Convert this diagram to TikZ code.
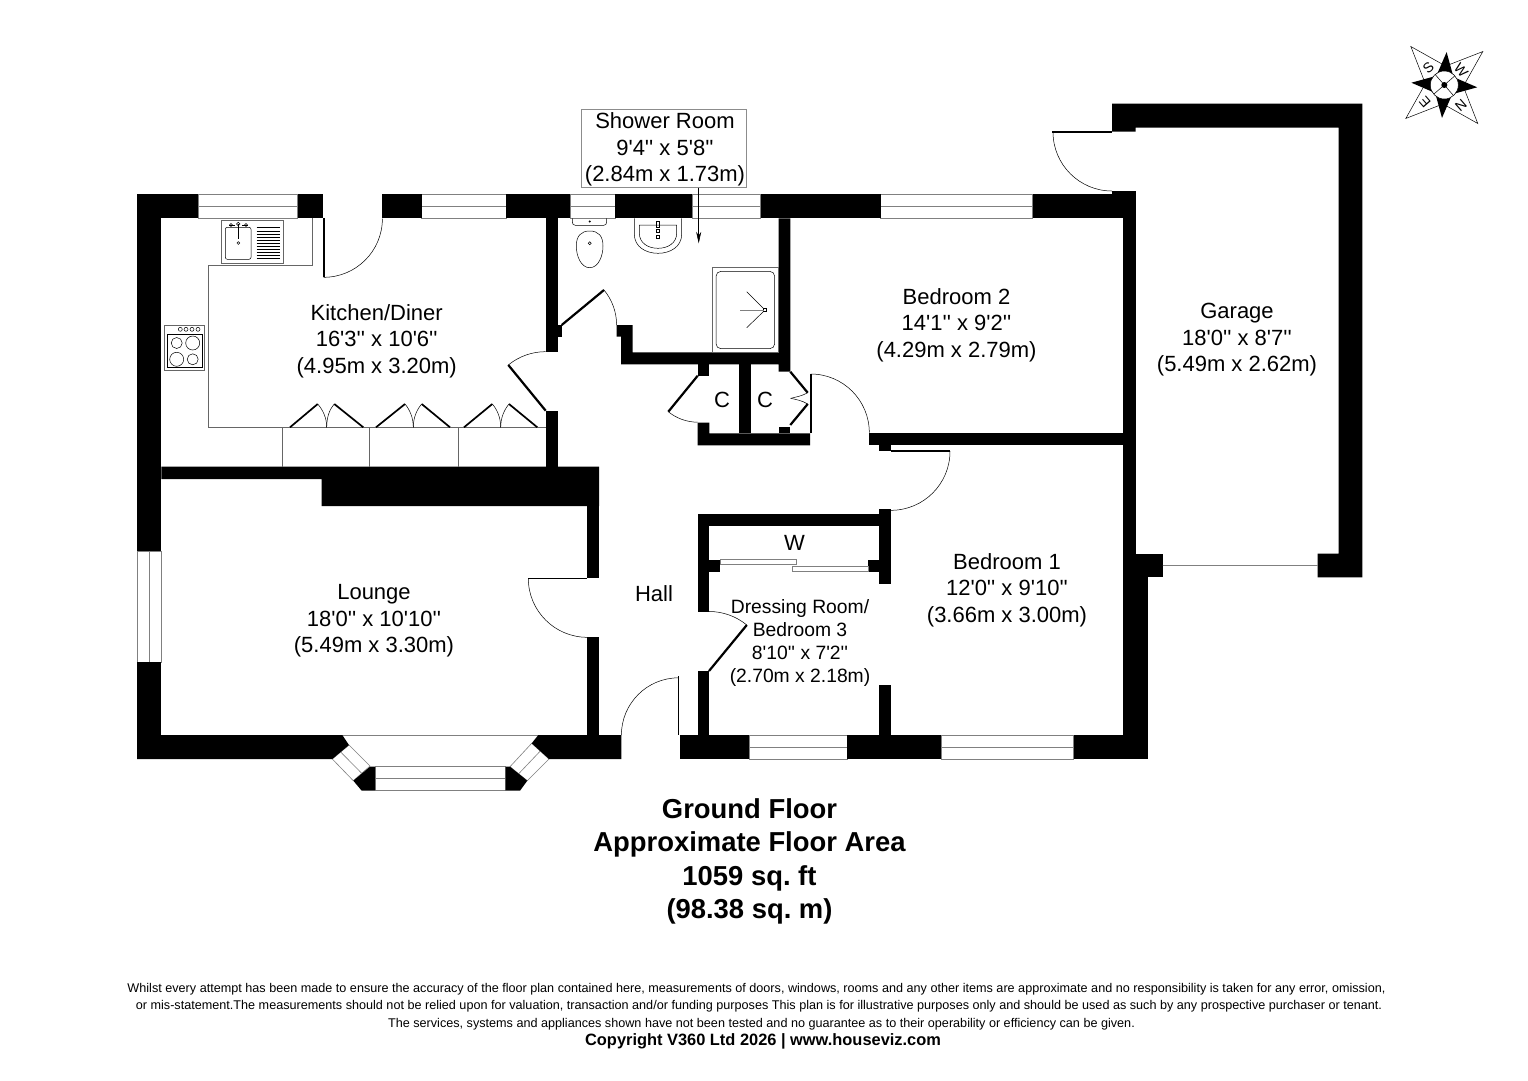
\documentclass[tikz,border=0pt]{standalone}
\usepackage{fontspec}
\newfontfamily\plansans{Liberation Sans}
\usetikzlibrary{arrows.meta}
\frenchspacing
\tikzset{
  wall/.style={fill=black},
  glass/.style={draw=black!50,line width=.6pt,fill=white},
  leaf/.style={draw=black,line width=2.2pt},
  swing/.style={draw=black,line width=.5pt},
  fitting/.style={draw=black!60,line width=.6pt},
  roomlabel/.style={align=center,inner sep=0pt,font=\plansans\fontsize{22}{26.5}\selectfont},
  smalllabel/.style={align=center,inner sep=0pt,font=\plansans\fontsize{19.3}{23.2}\selectfont},
  arealabel/.style={align=center,inner sep=0pt,font=\plansans\bfseries\fontsize{27.4}{33.4}\selectfont},
  smallprint/.style={inner sep=0pt,font=\plansans\fontsize{12.63}{14}\selectfont},
  compassletter/.style={inner sep=0pt,font=\plansans\fontsize{14}{15}\selectfont}
}
\begin{document}
\begin{tikzpicture}[x=1pt,y=-1pt]
\useasboundingbox (0,0) rectangle (1528,1080);
\fill [white] (0,0) rectangle (1528,1080);

% windows
\draw [glass] (198,194.3) rectangle (297.7,218.3) (198,206.3) -- (297.7,206.3);
\draw [glass] (421.7,194.3) rectangle (506,218.3) (421.7,206.3) -- (506,206.3);
\draw [glass] (570,194.3) rectangle (615.3,218.3) (570,206.3) -- (615.3,206.3);
\draw [glass] (692.3,194.3) rectangle (760.7,218.3) (692.3,206.3) -- (760.7,206.3);
\draw [glass] (880.7,194.3) rectangle (1032.7,218.3) (880.7,206.3) -- (1032.7,206.3);
\draw [glass] (137,551) rectangle (161.3,662.3) (149.3,551) -- (149.3,662.3);
\draw [glass] (749,735) rectangle (847,759) (749,747) -- (847,747);
\draw [glass] (941,735) rectangle (1073.6,759) (941,747) -- (1073.6,747);

% bay window
\draw [glass] (375,766.7) rectangle (505.7,790.7) (375,778.3) -- (505.7,778.3);
\draw [glass] (332.3,759) -- (349,745) -- (370,766) -- (353.3,780.7) -- cycle;
\draw [glass] (340.7,752) -- (361.7,773.3);
\draw [glass] (531.7,743.3) -- (549,759) -- (527.3,780.7) -- (510,766.7) -- cycle;
\draw [glass] (540.3,751) -- (518.7,773.7);
\draw [glass] (342.3,735) -- (538.3,735);
\fill [wall] (370,766.7) -- (375,766.7) -- (375,790.7) -- (361.7,790.7) -- (353.3,780.7) -- cycle;
\fill [wall] (505.7,766.7) -- (510,766.7) -- (527.3,780.7) -- (520,790.7) -- (505.7,790.7) -- cycle;

% outer walls, top run
\fill [wall] (137,194.3) rectangle (198,218.3);
\fill [wall] (297.7,194.3) rectangle (323.3,218.3);
\fill [wall] (382.3,194.3) rectangle (421.7,218.3);
\fill [wall] (506,194.3) rectangle (570,218.3);
\fill [wall] (615.3,194.3) rectangle (692.3,218.3);
\fill [wall] (760.7,194.3) rectangle (880.7,218.3);
\fill [wall] (1032.7,194.3) rectangle (1135.7,218.3);
\fill [wall] (1112,190.7) rectangle (1135.7,218.3);

% outer walls, left and bottom
\fill [wall] (137,194.3) rectangle (161.3,551);
\fill [wall] (137,662.3) rectangle (161.3,759);
\fill [wall] (137,735) -- (342.3,735) -- (349,745) -- (332.3,759) -- (137,759) -- cycle;
\fill [wall] (538.3,735) -- (621.3,735) -- (621.3,759) -- (549,759) -- (531.7,743.3) -- cycle;
\fill [wall] (680.4,735) rectangle (749,759);
\fill [wall] (847,735) rectangle (941,759);
\fill [wall] (1073.6,735) rectangle (1147.7,759);
\fill [wall] (1123.3,190.7) rectangle (1135.7,577.3);
\fill [wall] (1123.3,577.3) rectangle (1147.7,759);

% garage
\fill [wall] (1112,103.7) -- (1362.3,103.7) -- (1362.3,577.3) -- (1317.7,577.3) -- (1317.7,553.7) -- (1338.7,553.7) -- (1338.7,127.7) -- (1135.7,127.7) -- (1135.7,131.7) -- (1112,131.7) -- cycle;
\fill [wall] (1135.7,553.7) rectangle (1162.7,577.3);
\draw [glass] (1162.7,565.3) -- (1317.7,565.3);

% inner walls
\fill [wall] (161.3,466.7) -- (599,466.7) -- (599,506) -- (321.7,506) -- (321.7,479) -- (161.3,479) -- cycle;
\fill [wall] (587.3,506) rectangle (599,578.3);
\fill [wall] (587.3,636.7) rectangle (599,735);
\fill [wall] (545.7,218.3) rectangle (557.7,351.7);
\fill [wall] (557.7,325) rectangle (561.7,336.7);
\fill [wall] (545.7,410.7) rectangle (557.7,466.7);
\fill [wall] (616.7,325) -- (632.7,325) -- (632.7,352.3) -- (778.7,352.3) -- (778.7,218.3) -- (790.3,218.3) -- (790.3,371.7) -- (778.7,371.7) -- (778.7,364.3) -- (621,364.3) -- (621,336.7) -- (616.7,336.7) -- cycle;
\fill [wall] (697.7,364.3) rectangle (709.3,375.7);
\fill [wall] (697.7,422.7) -- (709.3,422.7) -- (709.3,433.3) -- (810,433.3) -- (810,445.3) -- (697.7,445.3) -- cycle;
\fill [wall] (739,364.3) rectangle (751,433.3);
\fill [wall] (778.7,426.7) rectangle (790.3,433.3);
\fill [wall] (869.3,433.3) rectangle (1123.3,445.3);
\fill [wall] (879.3,445.3) rectangle (891,450.7);
\fill [wall] (697.5,514) rectangle (891,526);
\fill [wall] (697.5,514) rectangle (709,612);
\fill [wall] (697.5,671) rectangle (709,735);
\fill [wall] (879,509.3) rectangle (891,584.3);
\fill [wall] (879,685.3) rectangle (891,735);
\fill [wall] (709,560) rectangle (720,571.7);
\fill [wall] (868.2,560) rectangle (879,571.7);

% wardrobe sliders
\draw [glass] (720,559.3) rectangle (796.4,564.3);
\draw [glass] (792.5,566) rectangle (868.2,571);

% doors
\draw [leaf] (323.7,218.3) -- (323.7,277.3);
\draw [swing] (323.7,277.3) arc [start angle=90,end angle=0,radius=58.7];
\draw [leaf] (545.7,410.7) -- (508.3,365);
\draw [swing] (508.3,365) arc [start angle=-129.3,end angle=-90,radius=59];
\draw [leaf] (561.7,325) -- (604,290);
\draw [swing] (604,290) arc [start angle=-39.6,end angle=0,radius=55];
\draw [leaf] (697.7,375.7) -- (668.3,411.7);
\draw [swing] (668.3,411.7) arc [start angle=129.2,end angle=90,radius=46.5];
\draw [leaf] (790.3,371.7) -- (807.7,392.7);
\draw [leaf] (790.3,425) -- (807.7,404);
\draw [swing] (807.7,392.7) .. controls (802,396) and (796,397) .. (790.7,398.3);
\draw [swing] (807.7,404) .. controls (802,400.5) and (796,399.5) .. (790.7,398.3);
\draw [leaf,line width=1.6pt] (810.7,374) -- (810.7,433.3);
\draw [swing] (810.7,374) arc [start angle=270,end angle=360,radius=58.6];
\draw [leaf] (891,451.3) -- (950,451.3);
\draw [swing] (950,451.3) arc [start angle=0,end angle=90,radius=59];
\draw [leaf] (709,671) -- (746.8,625);
\draw [swing] (746.8,625) arc [start angle=-50.6,end angle=-90,radius=59.5];
\draw [leaf,line width=1.6pt] (528.3,578.3) -- (587.3,578.3);
\draw [swing] (528.3,578.3) arc [start angle=180,end angle=90,radius=59];
\draw [leaf,line width=1.6pt] (678.6,676) -- (678.6,735);
\draw [swing] (621.4,735) arc [start angle=180,end angle=270,radius=57.2];
\draw [leaf,line width=1.6pt] (1052.3,132) -- (1112,132);
\draw [swing] (1053,132) arc [start angle=180,end angle=90,radius=59];

% kitchen units
\draw [fitting] (312.7,218.3) -- (312.7,265) -- (208.3,265) -- (208.3,427.3) -- (545.7,427.3);
\draw [fitting] (282,427.3) -- (282,466.7);
\draw [fitting] (369.3,427.3) -- (369.3,466.7);
\draw [fitting] (458.3,427.3) -- (458.3,466.7);

% cupboard doors
\draw [leaf,line width=1.7pt] (290,427.3) -- (317.7,404);
\draw [leaf,line width=1.7pt] (363.3,427.3) -- (334.3,404);
\draw [swing] (317.7,404) .. controls (323,410) and (326.7,418) .. (326.7,427.3);
\draw [swing] (334.3,404) .. controls (329,410) and (326.7,418) .. (326.7,427.3);
\draw [leaf,line width=1.7pt] (376,427.3) -- (405,404);
\draw [leaf,line width=1.7pt] (450,427.3) -- (421.7,404);
\draw [swing] (405,404) .. controls (410,410) and (413.3,418) .. (413.3,427.3);
\draw [swing] (421.7,404) .. controls (416.5,410) and (413.3,418) .. (413.3,427.3);
\draw [leaf,line width=1.7pt] (464,427.3) -- (492.3,404);
\draw [leaf,line width=1.7pt] (537.3,427.3) -- (509,404);
\draw [swing] (492.3,404) .. controls (497.5,410) and (500.7,418) .. (500.7,427.3);
\draw [swing] (509,404) .. controls (504,410) and (500.7,418) .. (500.7,427.3);

% sink
\draw [fitting] (221.7,220) rectangle (283.3,263);
\draw [swing,rounded corners=2pt] (225.3,227.3) rectangle (251,259.3);
\draw [swing] (256.7,227.7) -- (280,227.7) (256.7,230.8) -- (280,230.8) (256.7,233.9) -- (280,233.9) (256.7,237) -- (280,237) (256.7,240.1) -- (280,240.1) (256.7,243.2) -- (280,243.2) (256.7,246.3) -- (280,246.3) (256.7,249.4) -- (280,249.4) (256.7,252.5) -- (280,252.5) (256.7,255.6) -- (280,255.6) (256.7,258.3) -- (280,258.3);
\draw [line width=1.4pt] (238.3,224) -- (238.3,239);
\draw [swing] (238.3,243) circle (1.4);
\draw [swing] (229,225) -- (235,225) (242,225) -- (248,225);
\draw [swing] (231,225) circle (1.6) (246,225) circle (1.6) (238.3,224) circle (1.8);

% hob
\draw [fitting] (164.7,325.3) rectangle (204.7,370.7);
\draw [swing] (167.3,334) rectangle (202.7,367.7);
\draw [swing] (176.7,343) circle (5.5) (192.7,343) circle (7) (176.7,359.3) circle (7) (192.7,359.3) circle (5.5);
\draw [swing] (180.3,329.3) circle (2) (186,329.3) circle (2) (192,329.3) circle (2) (198,329.3) circle (2);

% toilet
\draw [swing,rounded corners=3pt] (572.3,218.3) -- (572.3,225.3) -- (606.7,225.3) -- (606.7,218.3);
\draw [swing] (589.7,267.7) .. controls (581,267.7) and (576.3,256) .. (576.3,246) .. controls (576.3,236) and (581,231) .. (589.7,231) .. controls (598.4,231) and (603,236) .. (603,246) .. controls (603,256) and (598.4,267.7) .. (589.7,267.7) -- cycle;
\draw [swing] (589.7,243.3) circle (1.5) (589.7,221.5) circle (.8);

% basin
\draw [swing] (634.3,218.3) -- (634.3,234) .. controls (634.3,247) and (646,253.3) .. (658,253.3) .. controls (670,253.3) and (681.7,247) .. (681.7,234) -- (681.7,218.3);
\draw [swing] (639.3,225) -- (676.7,225) -- (676.7,233) .. controls (676.7,243) and (668,248.3) .. (658,248.3) .. controls (648,248.3) and (639.3,243) .. (639.3,233) -- cycle;
\draw [swing] (656.3,221.5) rectangle (659.3,227) (656.3,229) rectangle (659.3,232) (656.3,235.5) rectangle (659.3,238.5);

% shower tray
\draw [fitting] (712.3,267.3) rectangle (778.7,352.3);
\draw [swing,rounded corners=5pt] (716,271.3) rectangle (774.7,348.7);
\draw [swing] (763.5,308.5) rectangle (766.5,311.5);
\draw [swing] (763.5,308.5) -- (746.7,291.7) (763.5,311.5) -- (746.7,327.7);
\draw [swing,draw=black!50] (763.5,310) -- (740,310);

% shower label
\node [roomlabel,draw=black!45,line width=.7pt,minimum width=164.6pt,minimum height=78pt] (showerlabel) at (664,148.3) {};
\node [roomlabel] (showertext) at (665,149.5) {Shower Room\\9'4'' x 5'8''\\(2.84m x 1.73m)};
\coordinate (showertip) at (698.7,243.3);
\draw [swing,-{Stealth[length=11.5pt,width=5pt]}] (showerlabel.south -| showertip) -- (showertip);

% rooms
\node [roomlabel] (kitchen) at (376.7,341) {Kitchen/Diner\\16'3'' x 10'6''\\(4.95m x 3.20m)};
\node [roomlabel] (bedtwo) at (956.5,325) {Bedroom 2\\14'1'' x 9'2''\\(4.29m x 2.79m)};
\node [roomlabel] (garage) at (1237,340) {Garage\\18'0'' x 8'7''\\(5.49m x 2.62m)};
\node [roomlabel] (lounge) at (374,621) {Lounge\\18'0'' x 10'10''\\(5.49m x 3.30m)};
\node [roomlabel] (bedone) at (1007,590) {Bedroom 1\\12'0'' x 9'10''\\(3.66m x 3.00m)};
\node [roomlabel] (hall) at (654,594) {Hall};
\node [roomlabel] (cupleft) at (722,399.5) {C};
\node [roomlabel] (cupright) at (765,399.5) {C};
\node [roomlabel] (wardrobe) at (794.5,543) {W};
\node [smalllabel] (dressing) at (800,643) {Dressing Room/\\Bedroom 3\\8'10'' x 7'2''\\(2.70m x 2.18m)};

% floor area
\node [arealabel] (floorarea) at (749.5,861.5) {Ground Floor\\Approximate Floor Area\\1059 sq. ft\\(98.38 sq. m)};

% small print
\node [smallprint] (printone) at (756.5,989) {Whilst every attempt has been made to ensure the accuracy of the floor plan contained here, measurements of doors, windows, rooms and any other items are approximate and no responsibility is taken for any error, omission,};
\node [smallprint] (printtwo) at (759,1006.5) {or mis-statement.The measurements should not be relied upon for valuation, transaction and/or funding purposes This plan is for illustrative purposes only and should be used as such by any prospective purchaser or tenant.};
\node [smallprint] (printthree) at (761.5,1024.5) {The services, systems and appliances shown have not been tested and no guarantee as to their operability or efficiency can be given.};
\node [inner sep=0pt,font=\plansans\bfseries\fontsize{16.4}{18}\selectfont] (copyright) at (763,1041) {Copyright V360 Ltd 2026 | www.houseviz.com};

% compass
\begin{scope}[shift={(1444.3,85)}]
\draw [swing,fill=white] (-86:19) -- (-131:51) -- (-176:19) -- cycle;
\draw [swing,fill=white] (4:19) -- (-41:51) -- (-86:19) -- cycle;
\draw [swing,fill=white] (94:19) -- (49:51) -- (4:19) -- cycle;
\draw [swing,fill=white] (184:19) -- (139:51) -- (94:19) -- cycle;
\fill [wall] (-86:33) -- (-118:14) -- (-54:14) -- cycle;
\fill [wall] (4:33) -- (-28:14) -- (36:14) -- cycle;
\fill [wall] (94:33) -- (62:14) -- (126:14) -- cycle;
\fill [wall] (184:33) -- (152:14) -- (216:14) -- cycle;
\draw [swing,fill=white] (0,0) circle (14);
\draw [swing] (-131:14) -- (49:14) (-41:14) -- (139:14);
\fill [wall] (0,0) circle (3);
\node [compassletter,rotate=42] (south) at (-16,-17.7) {S};
\node [compassletter,rotate=-49] (west) at (16.7,-14.3) {W};
\node [compassletter,rotate=-139] (north) at (16.7,20) {N};
\node [compassletter,rotate=131] (east) at (-19.3,16.7) {E};
\end{scope}

\end{tikzpicture}
\end{document}
